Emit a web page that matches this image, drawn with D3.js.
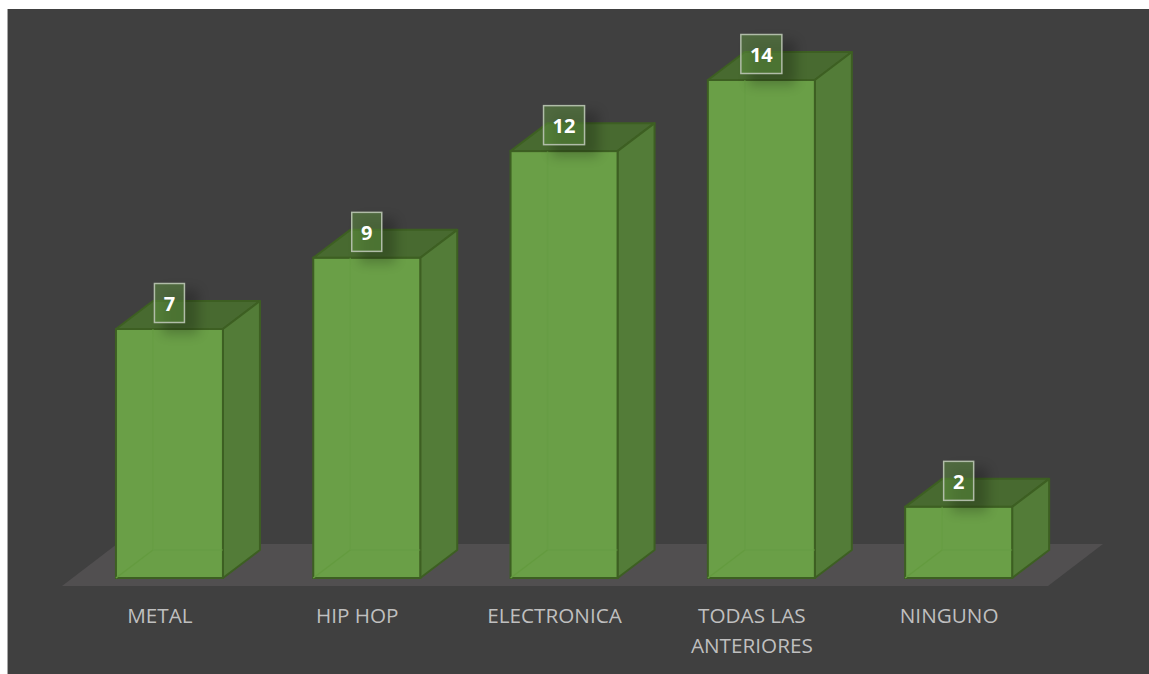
<!DOCTYPE html>
<html>
<head>
<meta charset="utf-8">
<script src="https://cdn.jsdelivr.net/npm/d3@7"></script>
<style>
  html, body { margin: 0; padding: 0; background: #fff; }
  svg { display: block; }
  text { font-family: "Open Sans", sans-serif; }
</style>
</head>
<body>
<div id="chart"></div>
<script>
const categories = ["METAL", "HIP HOP", "ELECTRONICA", "TODAS LAS ANTERIORES", "NINGUNO"];
const values = [7, 9, 12, 14, 2];
const axisLines = [["METAL"], ["HIP HOP"], ["ELECTRONICA"], ["TODAS LAS", "ANTERIORES"], ["NINGUNO"]];

const width = 1149, height = 674;
const baseY = 578, depthX = 37, depthY = 28;

const svg = d3.select("#chart").append("svg").attr("width", width).attr("height", height);

const defs = svg.append("defs");
defs.append("filter").attr("id", "soft").attr("x", "-60%").attr("y", "-60%").attr("width", "220%").attr("height", "220%")
  .append("feGaussianBlur").attr("stdDeviation", 6);

// Chart panel with its thin left edge
svg.append("rect").attr("x", 8).attr("y", 9).attr("width", width - 8).attr("height", height - 9).attr("fill", "#404040");
svg.append("rect").attr("x", 7).attr("y", 9).attr("width", 1).attr("height", height - 9).attr("fill", "#a6a6a6");

const x = d3.scaleBand().domain(categories).range([70.8, 1057.3]).paddingInner(0.4577).paddingOuter(0.2288);
const y = d3.scaleLinear().domain([0, 14]).range([baseY, 80]);

// Floor of the 3D plot
svg.append("path")
  .attr("d", d3.line()([[62, 586], [1048, 586], [1103, 544], [117, 544]]) + "Z")
  .attr("fill", "#514f50");

const bars = svg.selectAll("g.bar").data(categories.map((c, i) => ({ c, v: values[i], lines: axisLines[i] })))
  .join("g").attr("class", "bar");

const poly = pts => d3.line()(pts) + "Z";
const edge = "#3d5f22";

// Top and side faces
bars.append("path")
  .attr("d", d => {
    const l = x(d.c), r = l + x.bandwidth(), t = y(d.v);
    return poly([[l, t], [r, t], [r + depthX, t - depthY], [l + depthX, t - depthY]]);
  })
  .attr("fill", "#486a30").attr("stroke", edge).attr("stroke-width", 2).attr("stroke-linejoin", "round");

bars.append("path")
  .attr("d", d => {
    const r = x(d.c) + x.bandwidth(), t = y(d.v);
    return poly([[r, t], [r + depthX, t - depthY], [r + depthX, baseY - depthY], [r, baseY]]);
  })
  .attr("fill", "#537c38").attr("stroke", edge).attr("stroke-width", 2).attr("stroke-linejoin", "round");

// Front face
bars.append("rect")
  .attr("x", d => x(d.c)).attr("y", d => y(d.v))
  .attr("width", x.bandwidth()).attr("height", d => baseY - y(d.v))
  .attr("fill", "#6a9f47").attr("stroke", edge).attr("stroke-width", 2);

// Rear edges showing faintly through the translucent front
bars.append("path")
  .attr("d", d => {
    const l = x(d.c), r = l + x.bandwidth();
    return `M${l},${baseY}L${l + depthX},${baseY - depthY}`;
  })
  .attr("fill", "none").attr("stroke", "#649b3f").attr("stroke-width", 1.5);
bars.append("path")
  .attr("d", d => {
    const l = x(d.c), r = l + x.bandwidth(), t = y(d.v);
    return `M${r},${baseY - depthY}L${l + depthX},${baseY - depthY}L${l + depthX},${t}`;
  })
  .attr("fill", "none").attr("stroke", "#669c42").attr("stroke-opacity", 0.6).attr("stroke-width", 1.5);

// Value labels with a soft shadow behind the box
const boxH = 39;
const boxW = v => String(v).length > 1 ? 41 : 30;
const labelCy = v => y(v) - 26;

bars.append("rect")
  .attr("x", d => x(d.c) + x.bandwidth() / 2 - boxW(d.v) / 2 + 8)
  .attr("y", d => labelCy(d.v) - boxH / 2 + 6)
  .attr("width", d => boxW(d.v) + 6).attr("height", boxH + 6)
  .attr("fill", "#000").attr("opacity", 0.22).attr("filter", "url(#soft)");

bars.append("rect")
  .attr("x", d => x(d.c) + x.bandwidth() / 2 - boxW(d.v) / 2)
  .attr("y", d => labelCy(d.v) - boxH / 2)
  .attr("width", d => boxW(d.v)).attr("height", boxH)
  .attr("fill", "#5f9440").attr("fill-opacity", 0.5)
  .attr("stroke", "#b0bca8").attr("stroke-width", 1.5);

bars.append("text")
  .attr("x", d => x(d.c) + x.bandwidth() / 2)
  .attr("y", d => labelCy(d.v) + 8)
  .attr("text-anchor", "middle").attr("font-size", 20).attr("font-weight", 700).attr("fill", "#fff")
  .text(d => d.v);

// Category labels, wrapped as two lines where needed
bars.append("text")
  .attr("text-anchor", "middle").attr("font-size", 20.7).attr("fill", "#bfbfbf")
  .each(function (d) {
    const cx = x(d.c) + x.bandwidth() / 2 - 9.5;
    d3.select(this).selectAll("tspan").data(d.lines).join("tspan")
      .attr("x", cx).attr("y", (_, i) => 623 + i * 29.5).text(t => t);
  });
</script>
</body>
</html>
